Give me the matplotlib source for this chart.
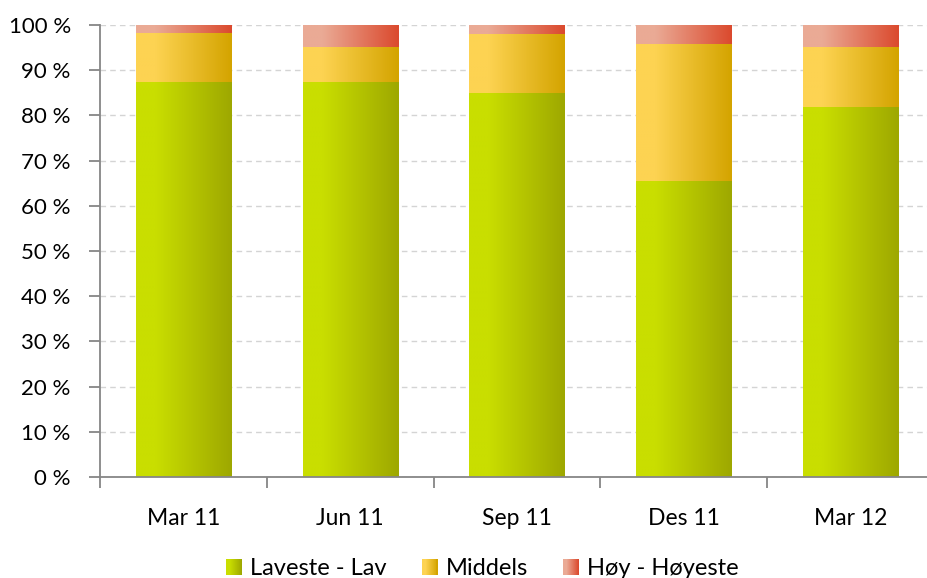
import matplotlib
matplotlib.use("Agg")

import numpy as np
import matplotlib.pyplot as plt
from matplotlib.colors import to_rgb
from matplotlib.legend_handler import HandlerBase
from matplotlib.patches import Rectangle

categories = ["Mar 11", "Jun 11", "Sep 11", "Des 11", "Mar 12"]
laveste_lav = [87.4, 87.4, 85.0, 65.5, 81.9]
middels = [10.8, 7.7, 13.0, 30.3, 13.2]
hoy_hoyeste = [1.8, 4.9, 2.0, 4.2, 4.9]
series_names = ["Laveste - Lav", "Middels", "Høy - Høyeste"]
y_ticks = list(range(0, 101, 10))

GRADIENTS = [
    ("#c9de00", "#9ea800"),
    ("#fdd352", "#d4a400"),
    ("#eaaa95", "#db4a2e"),
]

plt.rcParams["font.family"] = ["Lato", "DejaVu Sans"]


def gradient_image(c0, c1, n=64):
    a = np.array(to_rgb(c0))
    b = np.array(to_rgb(c1))
    t = np.linspace(0, 1, n)
    t = np.clip((t - 0.2) / 0.8, 0, 1)
    row = a[None, :] * (1 - t[:, None]) + b[None, :] * t[:, None]
    return row[None, :, :]


class GradientHandler(HandlerBase):
    def __init__(self, c0, c1):
        super().__init__()
        self.c0, self.c1 = c0, c1

    def create_artists(self, legend, orig_handle, xdescent, ydescent,
                       width, height, fontsize, trans):
        size = height * 0.95
        x0 = -xdescent + width - size
        y0 = -ydescent + (height - size) / 2
        img = gradient_image(self.c0, self.c1, 16)[0]
        n = len(img)
        artists = []
        for i, col in enumerate(img):
            artists.append(Rectangle((x0 + i * size / n, y0), size / n + 0.05, size,
                                     facecolor=col, edgecolor="none", transform=trans))
        return artists


fig = plt.figure(figsize=(9.28, 5.78), dpi=100)
ax = fig.add_axes([100 / 928, 101 / 578, 834 / 928, 452 / 578])

x = np.arange(len(categories))
width = 0.57
bottom = np.zeros(len(categories))
handles = []
for values, (c0, c1), name in zip([laveste_lav, middels, hoy_hoyeste], GRADIENTS, series_names):
    bars = ax.bar(x, values, width, bottom=bottom, color="none", edgecolor="none", label=name)
    for patch in bars.patches:
        bx, by = patch.get_x(), patch.get_y()
        bw, bh = patch.get_width(), patch.get_height()
        ax.imshow(gradient_image(c0, c1), extent=(bx, bx + bw, by, by + bh),
                  aspect="auto", interpolation="bilinear", zorder=2)
    handles.append(bars)
    bottom = bottom + np.array(values)

ax.set_xlim(-0.5, len(categories) - 0.5)
ax.set_ylim(0, 100)
ax.set_yticks(y_ticks)
ax.set_yticklabels([f"{v} %" for v in y_ticks])
ax.set_xticks(x)
ax.set_xticklabels(categories)
ax.set_xticks(np.arange(-0.5, len(categories), 1.0), minor=True)

ax.grid(True, axis="y", color="#d4d4d4", linestyle=(0, (4, 3)), linewidth=1.0, zorder=0)
ax.set_axisbelow(True)

for side in ["top", "right"]:
    ax.spines[side].set_visible(False)
for side in ["left", "bottom"]:
    ax.spines[side].set_color("#868686")
    ax.spines[side].set_linewidth(1.3)

ax.tick_params(axis="y", length=8, width=1.3, color="#868686", labelsize=16, pad=13)
ax.tick_params(axis="x", which="major", length=0, labelsize=16.5, pad=22)
ax.tick_params(axis="x", which="minor", length=8, width=1.3, color="#868686")

fig.legend(handles, series_names, loc="center", bbox_to_anchor=(0.52, 0.016),
           ncol=3, frameon=False, fontsize=17, handlelength=0.65, handletextpad=0.35,
           columnspacing=1.5,
           handler_map={h: GradientHandler(c0, c1) for h, (c0, c1) in zip(handles, GRADIENTS)})

fig.savefig("out.png", dpi=100)
